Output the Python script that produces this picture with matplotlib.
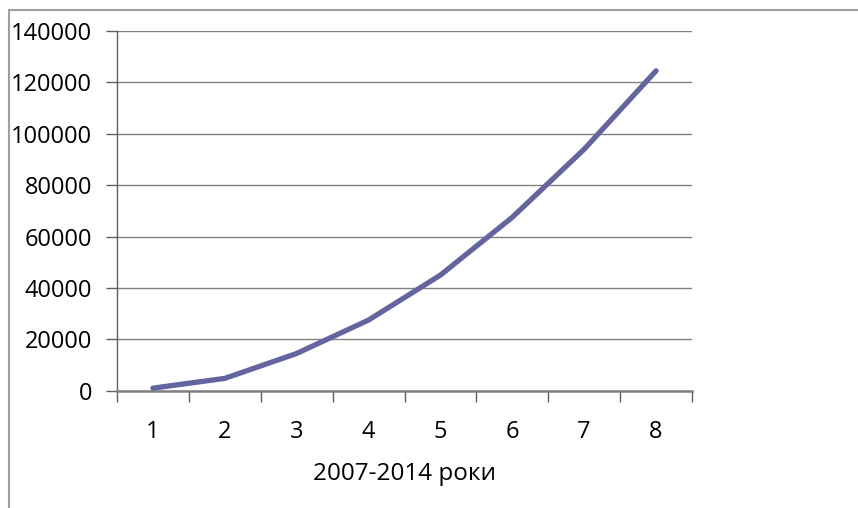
import matplotlib.pyplot as plt
import matplotlib.patches as patches
import numpy as np

# обсяги по роках 2007-2014
years = [1, 2, 3, 4, 5, 6, 7, 8]
values = [1000, 4800, 14500, 27500, 45000, 67500, 94000, 124500]
y_ticks = [0, 20000, 40000, 60000, 80000, 100000, 120000, 140000]
x_title = '2007-2014 роки'


def main():
    plt.rcParams['font.family'] = ['Open Sans', 'DejaVu Sans']
    fig = plt.figure(figsize=(8.58, 5.08), dpi=100)
    ax = fig.add_axes([117 / 858, 1 - 390.7 / 508, 575 / 858, 359.7 / 508])

    ax.plot(years, values, color='#64649e', lw=3.8, solid_capstyle='round', zorder=3)

    ax.set_xlim(0.5, 8.5)
    ax.set_ylim(0, 140000)

    ax.set_yticks(y_ticks)
    ax.set_yticklabels([str(v) for v in y_ticks], fontsize=17)
    ax.yaxis.grid(True, color='#808080', lw=1.0)
    ax.set_axisbelow(True)

    ax.set_xticks(years)
    ax.set_xticklabels([str(v) for v in years], fontsize=17)
    ax.set_xticks(np.arange(0.5, 9, 1), minor=True)
    ax.tick_params(axis='x', which='major', length=0, pad=21)
    ax.tick_params(axis='x', which='minor', length=8, width=1, color='#606060')
    ax.tick_params(axis='y', length=8, width=1, color='#606060', pad=10)

    ax.set_xlabel(x_title, fontsize=17.5, labelpad=13)

    for side in ['top', 'right']:
        ax.spines[side].set_visible(False)
    ax.spines['left'].set_color('#606060')
    ax.spines['left'].set_linewidth(1.0)
    ax.spines['bottom'].set_color('#808080')
    ax.spines['bottom'].set_linewidth(1.8)

    # рамка діаграми
    frame = patches.Rectangle((8.5 / 858, -0.1), 1.2, (508 - 10) / 508 + 0.1,
                              transform=fig.transFigure, fill=False,
                              edgecolor='#a0a0a0', lw=1.5)
    fig.patches.append(frame)

    fig.savefig('out.png', dpi=100)


if __name__ == '__main__':
    main()
